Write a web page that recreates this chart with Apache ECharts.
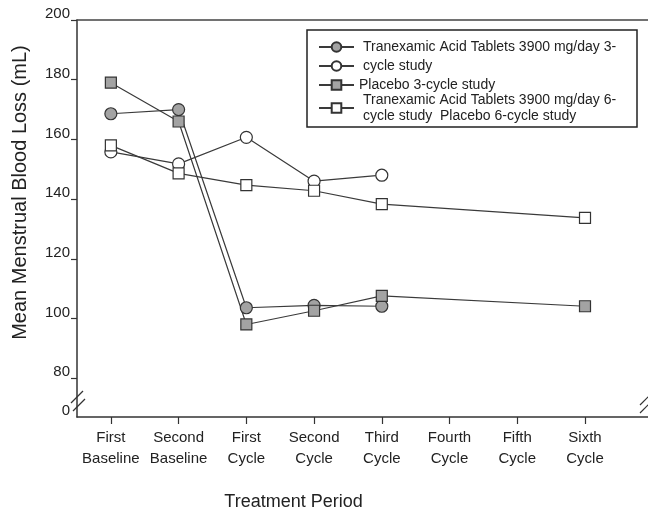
<!DOCTYPE html>
<html>
<head>
<meta charset="utf-8">
<title>Mean Menstrual Blood Loss</title>
<script src="https://cdn.jsdelivr.net/npm/echarts@6/dist/echarts.min.js"></script>
<style>
    html, body { margin: 0; padding: 0; background: #fff; }
    #chart { width: 648px; height: 516px; }
</style>
</head>
<body>
<div id="chart"></div>
<script>
var periods = ['First Baseline', 'Second Baseline', 'First Cycle', 'Second Cycle',
    'Third Cycle', 'Fourth Cycle', 'Fifth Cycle', 'Sixth Cycle'];
var yTicks = [80, 100, 120, 140, 160, 180, 200];
var yBottom = 67;   // axis is broken between 0 and 80

var seriesNames = ['Tranexamic Acid Tablets 3900 mg/day 3-cycle study', 'Placebo 3-cycle study',
    'Tranexamic Acid Tablets 3900 mg/day 6-cycle study', 'Placebo 6-cycle study'];
var txa3 = [168.6, 170, 103.6, 104.4, 104.1, null, null, null];
var placebo3 = [155.8, 151.8, 160.7, 146, 148, null, null, null];
var txa6 = [179, 166, 98, 102.6, 107.6, null, null, 104.1];
var placebo6 = [158, 148.6, 144.7, 142.8, 138.3, null, null, 133.7];

// legend lines as they are broken in the original figure
var legendText = {};
legendText[seriesNames[0]] = 'Tranexamic Acid Tablets 3900 mg/day 3-';
legendText[seriesNames[1]] = 'cycle study';
legendText[seriesNames[2]] = 'Placebo 3-cycle study';
legendText[seriesNames[3]] = 'Tranexamic Acid Tablets 3900 mg/day 6-\ncycle study  Placebo 6-cycle study';

var font = "'Liberation Sans', Arial, sans-serif";
var ink = '#222';
var lineColor = '#3a3a3a';

function toPoints(vals) {
    var res = [];
    for (var i = 0; i < vals.length; i++) {
        if (vals[i] != null) res.push([i, vals[i]]);
    }
    return res;
}

function makeSeries(name, vals, symbol, size, fill) {
    return {
        name: name,
        type: 'line',
        data: toPoints(vals),
        symbol: symbol,
        symbolSize: size,
        showAllSymbol: true,
        lineStyle: { color: lineColor, width: 1.2 },
        itemStyle: { color: fill, borderColor: '#333', borderWidth: 1.2 },
        emphasis: { disabled: true }
    };
}

function slash(x1, y1, x2, y2) {
    return {
        type: 'line',
        shape: { x1: x1, y1: y1, x2: x2, y2: y2 },
        style: { stroke: '#333', lineWidth: 1.2 },
        z: 100
    };
}

var myChart = echarts.init(document.getElementById('chart'));
var option = {
    backgroundColor: '#fff',
    textStyle: { fontFamily: font, color: ink },
    animation: false,
    grid: { left: 77, right: 0, top: 20, bottom: 97 },
    legend: [
        {
            data: [
                { name: seriesNames[0], textStyle: { padding: [0, 0, 0, 4] } },
                { name: seriesNames[1], textStyle: { padding: [0, 0, 0, 4] } },
                { name: seriesNames[2] }
            ],
            orient: 'vertical',
            left: 318,
            top: 39,
            itemWidth: 35,
            itemHeight: 12,
            itemGap: 3,
            padding: 0,
            selectedMode: false,
            formatter: function (name) { return legendText[name]; },
            textStyle: { fontFamily: font, fontSize: 14, color: ink, lineHeight: 16 }
        },
        {
            data: [{ name: seriesNames[3], textStyle: { padding: [0, 0, 0, 4] } }],
            orient: 'vertical',
            left: 318,
            top: 92,
            itemWidth: 35,
            itemHeight: 12,
            padding: 0,
            selectedMode: false,
            formatter: function (name) { return legendText[name]; },
            textStyle: { fontFamily: font, fontSize: 14, color: ink, lineHeight: 16 }
        }
    ],
    xAxis: [
        {
            type: 'value',
            min: -0.5,
            max: 7.93,
            name: 'Treatment Period',
            nameLocation: 'middle',
            nameGap: 76,
            nameTextStyle: { fontFamily: font, fontSize: 18, color: ink, padding: [0, 138, 0, 0] },
            axisLine: { onZero: false, lineStyle: { color: '#333', width: 1.5 } },
            axisTick: { length: 7, lineStyle: { color: '#333', width: 1.2 }, customValues: [0, 1, 2, 3, 4, 5, 6, 7] },
            axisLabel: {
                customValues: [0, 1, 2, 3, 4, 5, 6, 7],
                formatter: function (v) { return periods[Math.round(v)].replace(' ', '\n'); },
                fontFamily: font,
                fontSize: 15,
                lineHeight: 21,
                color: ink,
                margin: 10
            },
            splitLine: { show: false }
        },
        {
            type: 'value',
            position: 'top',
            min: -0.5,
            max: 7.93,
            axisLine: { show: true, onZero: false, lineStyle: { color: '#444', width: 1.5 } },
            axisTick: { show: false },
            axisLabel: { show: false },
            splitLine: { show: false }
        }
    ],
    yAxis: {
        type: 'value',
        min: yBottom,
        max: 200,
        name: 'Mean Menstrual Blood Loss (mL)',
        nameLocation: 'middle',
        nameGap: 47,
        nameTextStyle: { fontFamily: font, fontSize: 20, color: ink, padding: [0, 0, 0, 52] },
        axisLine: { show: true, onZero: false, lineStyle: { color: '#333', width: 1.5 } },
        axisTick: { show: true, length: 6, lineStyle: { color: '#333', width: 1.2 }, customValues: yTicks },
        axisLabel: {
            customValues: [yBottom].concat(yTicks),
            formatter: function (v) { return v === yBottom ? '0' : String(v); },
            fontFamily: font,
            fontSize: 15,
            lineHeight: 12,
            color: ink,
            margin: 7,
            verticalAlign: 'bottom'
        },
        splitLine: { show: false }
    },
    graphic: [
        {
            type: 'rect',
            shape: { x: 307, y: 30, width: 330, height: 97 },
            style: { fill: 'none', stroke: '#222', lineWidth: 1.5 },
            z: 1
        },
        slash(71, 403, 83, 391),
        slash(73, 411, 85, 399),
        slash(640, 405, 652, 393),
        slash(640, 413, 652, 401)
    ],
    series: [
        makeSeries(seriesNames[0], txa3, 'circle', 12, '#a3a3a3'),
        makeSeries(seriesNames[1], placebo3, 'circle', 12, '#fff'),
        makeSeries(seriesNames[2], txa6, 'rect', 11, '#a3a3a3'),
        makeSeries(seriesNames[3], placebo6, 'rect', 11, '#fff')
    ]
};
myChart.setOption(option);
</script>
</body>
</html>
